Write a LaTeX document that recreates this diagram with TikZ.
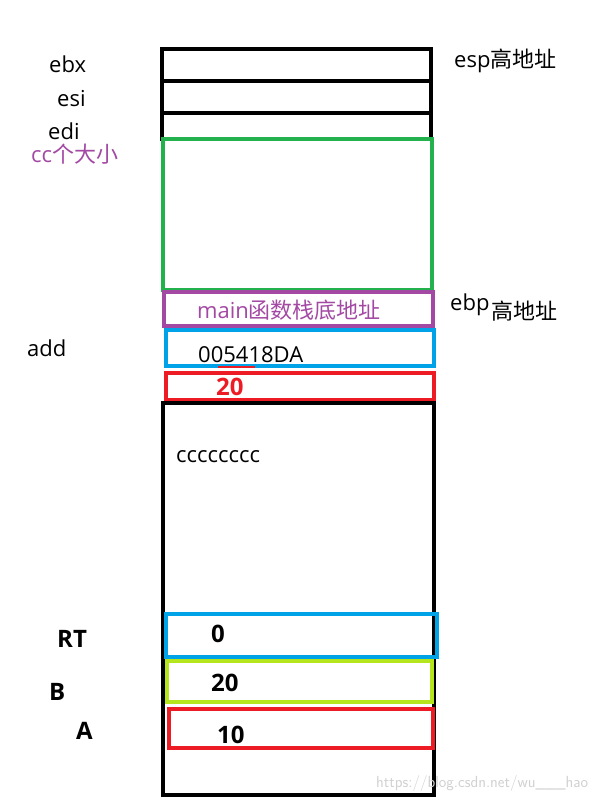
\documentclass[tikz,border=0pt]{standalone}
\usepackage{fontspec}
\setmainfont{Open Sans}
\newfontfamily\cjk{Noto Sans CJK SC}
\definecolor{cgreen}{RGB}{34,177,76}
\definecolor{cpurple}{RGB}{163,73,164}
\definecolor{cblue}{RGB}{0,162,232}
\definecolor{cred}{RGB}{237,28,36}
\definecolor{cyg}{RGB}{181,230,29}
\begin{document}
\begin{tikzpicture}[x=1pt,y=-1pt,
  cell/.style={draw, line width=4pt, inner sep=0pt, anchor=north west},
  lbl/.style={font=\fontsize{22}{26}\selectfont, inner sep=0pt},
  blbl/.style={font=\fontsize{24}{28}\selectfont\bfseries, inner sep=0pt}]
\useasboundingbox[fill=white] (0,0) rectangle (604,801);
% top black cells
\node[cell, minimum width=269pt, minimum height=32pt] (ebxc) at (160,47) {};
\node[cell, minimum width=269pt, minimum height=32pt] (esic) at (160,79) {};
\node[cell, minimum width=269pt, minimum height=26pt] (edic) at (160,111) {};
% green
\node[cell, draw=cgreen, minimum width=269pt, minimum height=151pt] (ccc) at (161,137) {};
% purple
\node[cell, draw=cpurple, minimum width=269pt, minimum height=34pt] (mainc) at (162,290) {};
\node[lbl, text=cpurple, anchor=base west] (maint) at (197,318) {main{\cjk 函数栈底地址}};
% blue
\node[cell, draw=cblue, minimum width=268pt, minimum height=36pt] (addc) at (164,328) {};
\node[lbl, anchor=base west] (addt) at (198,362) {005418DA};
\coordinate (rs1) at (218,367);
\coordinate (rs2) at (255,367);
\draw[cred, line width=2pt] (rs1) -- (rs2);
% red 20
\node[cell, draw=cred, minimum width=268pt, minimum height=27pt] (twc) at (164,371) {};
\node[blbl, text=cred, anchor=base west] (twt) at (216,395) {20};
% big black
\node[cell, minimum width=271pt, minimum height=392pt] (bigc) at (161,401) {};
\node[lbl, anchor=base west] (cct) at (176,462) {cccccccc};
% RT blue
\node[cell, draw=cblue, minimum width=271pt, minimum height=43pt] (rtc) at (164,612) {};
\node[blbl, anchor=base west] (rtt) at (211,642) {0};
% B yellow-green
\node[cell, draw=cyg, minimum width=265pt, minimum height=41pt] (bc) at (165,659) {};
\node[blbl, anchor=base west] (bt) at (211,691) {20};
% A red
\node[cell, draw=cred, minimum width=264pt, minimum height=39pt] (ac) at (167,707) {};
\node[blbl, anchor=base west] (at) at (217,743) {10};
% left labels
\node[lbl, anchor=base west] (ebx) at (49,72) {ebx};
\node[lbl, anchor=base west] (esi) at (57,106) {esi};
\node[lbl, anchor=base west] (edi) at (48,139) {edi};
\node[lbl, text=cpurple, anchor=base west] (ccl) at (31,162) {cc{\cjk 个大小}};
\node[lbl, anchor=base west] (addl) at (27,356) {add};
\node[blbl, anchor=base west] (rtl) at (57,647) {RT};
\node[blbl, anchor=base west] (bl) at (49,700) {B};
\node[blbl, anchor=base west] (al) at (76,739) {A};
% right labels
\node[lbl, anchor=base west] (espl) at (454,67) {esp{\cjk 高地址}};
\node[lbl, anchor=base west] (ebpl) at (450,310) {ebp};
\node[lbl, anchor=base west] (hil) at (491,319) {\cjk 高地址};
% watermark
\node[font=\fontsize{16}{18}\selectfont\sffamily, text=black!18, anchor=base west, inner sep=0pt] (wm) at (376,787) {https://blog.csdn.net/wu\_\_\_hao};
\end{tikzpicture}
\end{document}
